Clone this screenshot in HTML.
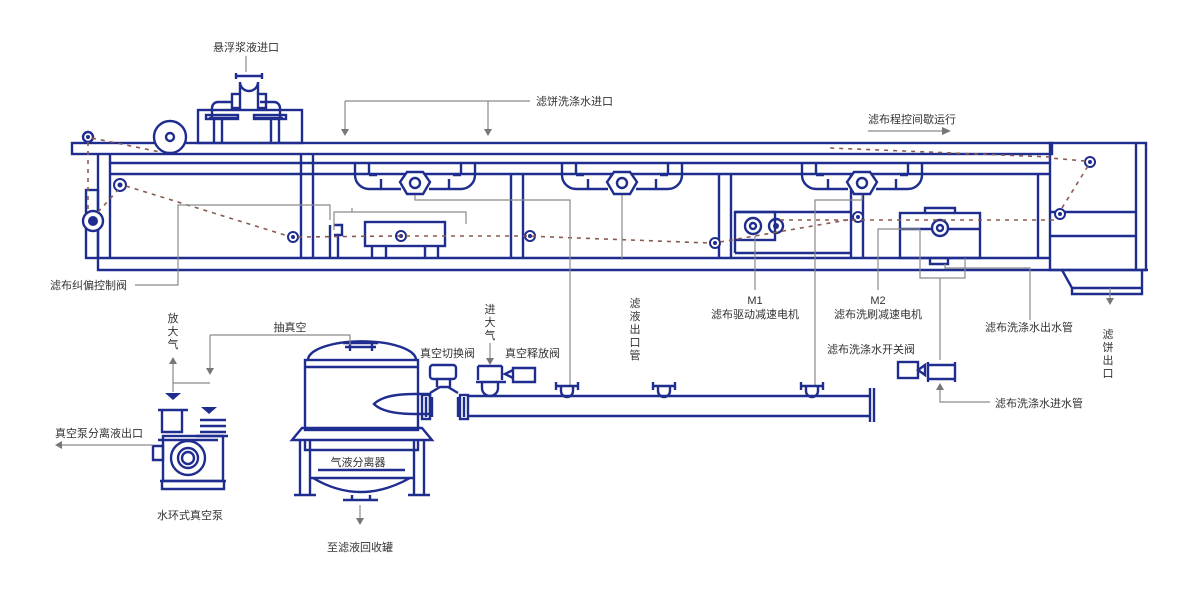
<!DOCTYPE html>
<html><head><meta charset="utf-8"><style>
html,body{margin:0;padding:0;background:#fff}
svg{display:block}
text{font-family:"Liberation Sans","Noto Sans CJK SC",sans-serif;font-size:11px;fill:#333}
.b{fill:none;stroke:#1f2d8f;stroke-width:2.4}
.bf{fill:#fff;stroke:#1f2d8f;stroke-width:2.4}
.g{fill:none;stroke:#8a8a8a;stroke-width:1.2}
.d{fill:none;stroke:#8a5a50;stroke-width:1.6;stroke-dasharray:4 5}
.a{fill:#777}
</style></head><body>
<svg width="1200" height="600" viewBox="0 0 1200 600" xmlns="http://www.w3.org/2000/svg">
<!-- labels -->
<text x="246" y="51" text-anchor="middle">悬浮浆液进口</text>
<path class="g" d="M246 56V72"/>
<text x="536" y="105">滤饼洗涤水进口</text>
<path class="g" d="M345 101H530M345 101V130M488 101V130"/>
<path class="a" d="M341 129h8l-4 7zM484 129h8l-4 7z"/>
<text x="868" y="123">滤布程控间歇运行</text>
<path class="g" d="M868 131H944"/><path class="a" d="M942 127l9 4-9 4z"/>

<!-- feed box and valve -->
<rect class="b" x="198" y="110" width="104" height="33"/>
<path class="b" d="M209 118h30M253 118h30M212 118v-10a6 6 0 0 1 6-6h14M280 118v-10a6 6 0 0 0-6-6h-14M214 118v25M222 118v25M271 118v25M279 118v25"/>
<rect class="b" x="206" y="115" width="32" height="4"/><rect class="b" x="254" y="115" width="32" height="4"/>
<rect class="b" x="232" y="94" width="8" height="14"/><rect class="b" x="258" y="94" width="8" height="14"/>
<path class="b" d="M236 76h26M240 94v-12a6 6 0 0 0 18 0v12M236 73v6M262 73v6"/>
<!-- top bar -->
<rect class="b" x="72" y="143" width="980" height="11"/>
<circle class="bf" cx="170" cy="137" r="16"/><circle class="b" cx="170" cy="137" r="4"/>
<circle class="bf" cx="88" cy="137" r="5"/><circle cx="88" cy="137" r="2" fill="#1f2d8f"/>
<!-- frame -->
<path class="b" d="M98 154V270H1148M98 270V258H1050M110 154V258M110 163H1050M110 174H1050"/>
<rect class="b" x="1050" y="143" width="96" height="127"/>
<path class="b" d="M1136 143V270M1050 212H1136M1050 236H1136M1062 270l10 18h70v-18M1072 288v6h70v-6"/>
<rect class="b" x="86" y="190" width="12" height="68"/>
<circle class="bf" cx="93" cy="221" r="10"/><circle cx="93" cy="221" r="5" fill="#1f2d8f"/>
<!-- posts -->
<path class="b" d="M301 154V258M313 154V258M511 174V258M523 174V258M719 174V258M731 174V258M851 174V258M863 174V258M1038 174V258"/>
<!-- manifolds -->
<g id="m">
<path class="b" d="M355 163v12a14 14 0 0 0 14 14h32M429 189h32a14 14 0 0 0 14-14v-12M369 163v12M461 163v12M381 189v-10M449 189v-10M369 175h8M453 175h8"/>
<polygon class="bf" points="407,172 423,172 430,182 423,194 407,194 400,182"/>
<circle class="b" cx="415" cy="183" r="5"/>
</g>
<use href="#m" x="207"/><use href="#m" x="447"/>
<!-- inner box left -->
<rect class="b" x="365" y="222" width="80" height="24"/>
<path class="b" d="M372 246V258M386 246V258M425 246V258M438 246V258"/>
<path class="b" d="M330 225v33M334 225h8v10h-8M338 236v22"/>
<path class="g" d="M334 230v-18h132v12M352 212v-4"/>
<!-- M1 -->
<rect class="b" x="735" y="212" width="40" height="28"/>
<path class="b" d="M735 212h116M735 253h116M735 240v13"/>
<circle class="b" cx="753" cy="226" r="8"/><circle class="b" cx="753" cy="226" r="3"/>
<circle class="b" cx="776" cy="226" r="7"/><circle cx="776" cy="226" r="3" fill="#1f2d8f"/>
<!-- M2 -->
<rect class="b" x="900" y="213" width="80" height="45"/>
<path class="b" d="M900 229h80M925 213v-5h30v5M930 258v6h18v-6"/>
<circle class="bf" cx="940" cy="228" r="8"/><circle class="b" cx="940" cy="228" r="3"/>
<!-- small rollers -->
<g fill="#fff" stroke="#1f2d8f" stroke-width="2">
<circle cx="120" cy="185" r="6"/><circle cx="293" cy="237" r="5"/><circle cx="401" cy="236" r="5"/><circle cx="530" cy="236" r="5"/><circle cx="715" cy="243" r="5"/><circle cx="858" cy="217" r="5"/><circle cx="1060" cy="214" r="5"/><circle cx="1090" cy="162" r="5"/>
</g>
<g fill="#1f2d8f"><circle cx="120" cy="185" r="2.5"/><circle cx="293" cy="237" r="2"/><circle cx="401" cy="236" r="2"/><circle cx="530" cy="236" r="2"/><circle cx="715" cy="243" r="2"/><circle cx="858" cy="217" r="2"/><circle cx="1060" cy="214" r="2"/><circle cx="1090" cy="162" r="2"/></g>
<!-- belt dashed -->
<path class="d" d="M92 138L160 152M88 142V212M98 212L118 190M126 186L288 236M298 237L396 236L525 236L710 243M720 242L853 219M780 220H1055M1062 208L1088 166M1085 161L1050 158M1050 157L830 148"/>
<!-- grey leader lines -- top section -->
<path class="g" d="M135 285H178V205H330V220"/>
<path class="g" d="M415 195V200H570V385"/>
<path class="g" d="M622 195V260"/>
<path class="g" d="M755 236V290"/>
<path class="g" d="M862 195V200H815V385"/>
<path class="g" d="M878 290V229H920"/>
<path class="g" d="M920 229V278H965V258M940 278V360"/>
<path class="g" d="M945 264V268H1030V320"/>
<path class="a" d="M1106 298h8l-4 7z"/><path class="g" d="M1110 288V298"/>
<text x="50" y="289">滤布纠偏控制阀</text>
<text x="755" y="304" text-anchor="middle">M1</text>
<text x="755" y="318" text-anchor="middle">滤布驱动减速电机</text>
<text x="878" y="304" text-anchor="middle">M2</text>
<text x="878" y="318" text-anchor="middle">滤布洗刷减速电机</text>
<g text-anchor="middle"><text x="635" y="307">滤</text><text x="635" y="320">液</text><text x="635" y="333">出</text><text x="635" y="346">口</text><text x="635" y="359">管</text></g>
<text x="985" y="331">滤布洗涤水出水管</text>
<g text-anchor="middle"><text x="1108" y="338">滤</text><text x="1108" y="351">饼</text><text x="1108" y="364">出</text><text x="1108" y="377">口</text></g>
<text x="827" y="353">滤布洗涤水开关阀</text>
<text x="995" y="407">滤布洗涤水进水管</text>
<path class="g" d="M990 402H940V388"/><path class="a" d="M936 390l4-7 4 7z"/>
<!-- wash valve -->
<rect class="b" x="898" y="362" width="20" height="16"/>
<path class="b" d="M918 370l7-5v10zM928 362v20M955 362v20M928 365h27M928 379h27"/>
<!-- bottom pipe -->
<path class="b" d="M468 396H870M468 416H870M870 388V422M874 388V422"/>
<g id="f"><path class="b" d="M557 386h20M556 382v8M578 382v8M561 386v5a6 6 0 0 0 12 0v-5"/></g>
<use href="#f" x="97"/><use href="#f" x="245"/>
<!-- valves -->
<rect class="b" x="430" y="365" width="26" height="14" rx="3"/>
<path class="b" d="M437 379v8M450 379v8M430 393l10-6h8l10 6M426 397v20M432 397v20M458 397v20M464 397v20"/>
<rect class="b" x="422" y="395" width="8" height="24"/><rect class="b" x="460" y="395" width="8" height="24"/>
<path class="b" d="M478 366h24M478 366v14M502 366v14M476 382h30M482 382v6a8 8 0 0 0 16 0v-6M505 374l8-4v8zM513 368h22v14h-22z"/>
<text x="420" y="357">真空切换阀</text>
<text x="505" y="357">真空释放阀</text>
<g text-anchor="middle"><text x="490" y="313">进</text><text x="490" y="326">大</text><text x="490" y="339">气</text></g>
<path class="g" d="M490 343V360"/><path class="a" d="M486 358h8l-4 7z"/>
<!-- separator -->
<path class="b" d="M343 343h35M345 347h31M350 343v8M372 343v8"/>
<path class="b" d="M308 360a52 18 0 0 1 108 0"/>
<rect class="b" x="305" y="360" width="113" height="70"/>
<path class="b" d="M305 367h113"/>
<path class="b" d="M374 404q10-10 40-10h16v20h-16q-30 0-40-10z"/>
<path class="b" d="M292 440l10-12h120l10 12zM292 440h140M305 440v10h113v-10M300 440v55M310 440v55M414 440v55M424 440v55M294 495h22M408 495h22"/>
<path class="b" d="M310 478h103M318 470h87M313 478q47 28 97 0"/>
<path class="b" d="M343 500h35M352 495v5M370 495v5"/>
<text x="358" y="466" text-anchor="middle">气液分离器</text>
<path class="g" d="M360 505V520"/><path class="a" d="M356 518h8l-4 7z"/>
<text x="360" y="551" text-anchor="middle">至滤液回收罐</text>
<!-- pump -->
<g text-anchor="middle"><text x="173" y="322">放</text><text x="173" y="335">大</text><text x="173" y="348">气</text></g>
<path class="g" d="M173 362V392M173 383H210M210 335V370M210 335H350V345"/>
<path class="a" d="M169 364l4-7 4 7zM206 368h8l-4 7z"/>
<text x="290" y="331" text-anchor="middle">抽真空</text>
<path fill="#1f2d8f" d="M165 393h16l-8 7zM201 407h16l-8 7z"/>
<path class="b" d="M158 410h30M162 410v22h20v-22M200 420h26M200 426h26M200 432h26M196 436h32M158 440h60M153 446h10v14h-10z"/>
<rect class="b" x="163" y="436" width="60" height="45"/>
<circle class="b" cx="188" cy="458" r="17"/><circle class="b" cx="188" cy="458" r="10"/><circle class="b" cx="188" cy="458" r="6"/>
<path class="b" d="M160 481h66M162 481v8h62v-8"/>
<text x="190" y="519" text-anchor="middle">水环式真空泵</text>
<text x="55" y="437">真空泵分离液出口</text>
<path class="g" d="M62 445H153"/><path class="a" d="M62 441l-7 4 7 4z"/>
</svg>
</body></html>
